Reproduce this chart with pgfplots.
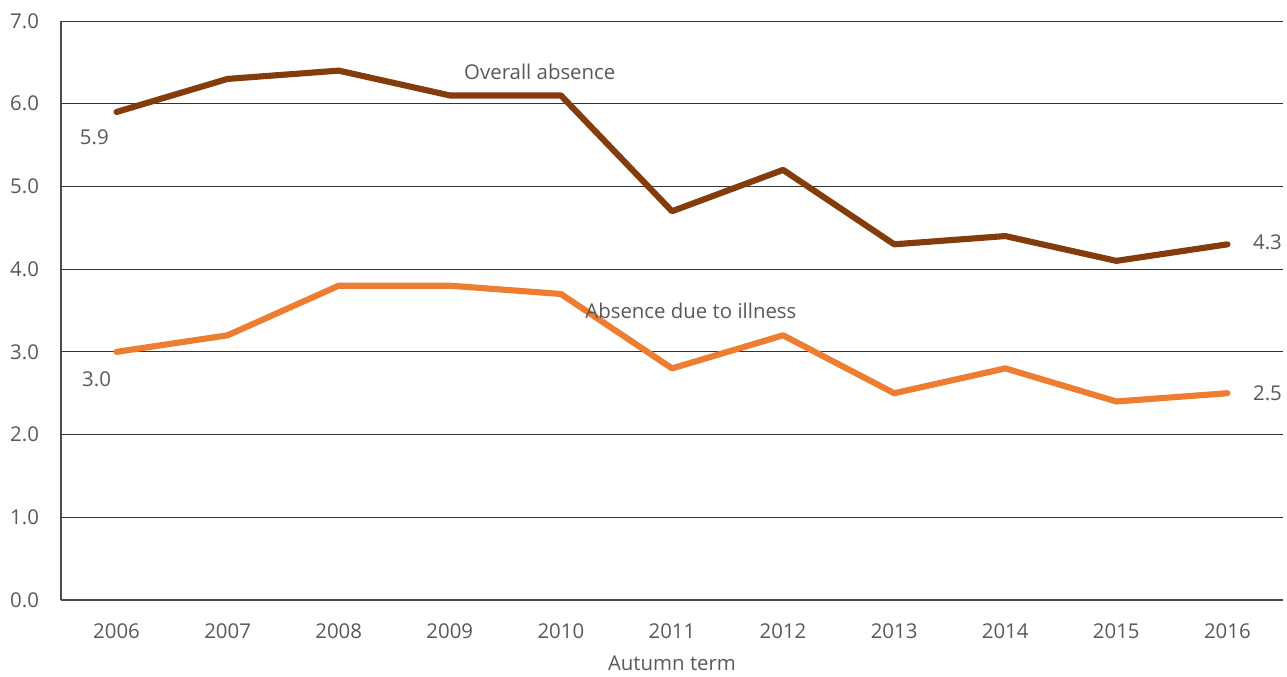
\documentclass[border=0pt]{standalone}
\usepackage{pgfplots}
\pgfplotsset{compat=1.18}
\usepackage{fontspec}
\setmainfont{Open Sans}
\definecolor{overall}{HTML}{843C0C}
\definecolor{illness}{HTML}{ED7D31}
\definecolor{txt}{HTML}{595959}
\newcommand{\lf}{\fontsize{15.3}{18}\selectfont}
\begin{document}
\begin{tikzpicture}
\useasboundingbox (-45.75pt,-57.75pt) rectangle (919.5pt,450pt);
\begin{axis}[
  at={(0,0)}, anchor=south west,
  scale only axis,
  width=916.5pt, height=434.25pt,
  xmin=2005.5, xmax=2016.5,
  ymin=0, ymax=7,
  xtick={2006,...,2016},
  xticklabels={2006,2007,2008,2009,2010,2011,2012,2013,2014,2015,2016},
  ytick={0,1,...,7},
  y tick label style={/pgf/number format/fixed,/pgf/number format/fixed zerofill,/pgf/number format/precision=1,/pgf/number format/assume math mode=true},
  ymajorgrids,
  grid style={black!80, line width=0.6pt},
  axis x line*=bottom, axis y line*=left,
  axis line style={black!70, line width=0.8pt, -},
  major tick length=0pt,
  tick label style={font=\lf, text=txt},
  yticklabel style={xshift=-13pt},
  xticklabel style={yshift=-14pt},
  xlabel={Autumn term},
  xlabel style={font=\lf, text=txt, yshift=-6pt},
  clip=false,
]
\addplot[overall, line width=4.6pt, line join=round, line cap=round] coordinates {
 (2006,5.9) (2007,6.3) (2008,6.4) (2009,6.1) (2010,6.1) (2011,4.7) (2012,5.2) (2013,4.3) (2014,4.4) (2015,4.1) (2016,4.3)};
\addplot[illness, line width=4.6pt, line join=round, line cap=round] coordinates {
 (2006,3.0) (2007,3.2) (2008,3.8) (2009,3.8) (2010,3.7) (2011,2.8) (2012,3.2) (2013,2.5) (2014,2.8) (2015,2.4) (2016,2.5)};
\node[font=\lf, text=txt] at (axis cs:2009.81,6.38) {Overall absence};
\node[font=\lf, text=txt] at (axis cs:2011.17,3.49) {Absence due to illness};
\node[font=\lf, text=txt] at (axis cs:2005.8,5.6) {5.9};
\node[font=\lf, text=txt] at (axis cs:2005.82,2.67) {3.0};
\node[font=\lf, text=txt] at (axis cs:2016.36,4.32) {4.3};
\node[font=\lf, text=txt] at (axis cs:2016.36,2.5) {2.5};
\end{axis}
\end{tikzpicture}
\end{document}
